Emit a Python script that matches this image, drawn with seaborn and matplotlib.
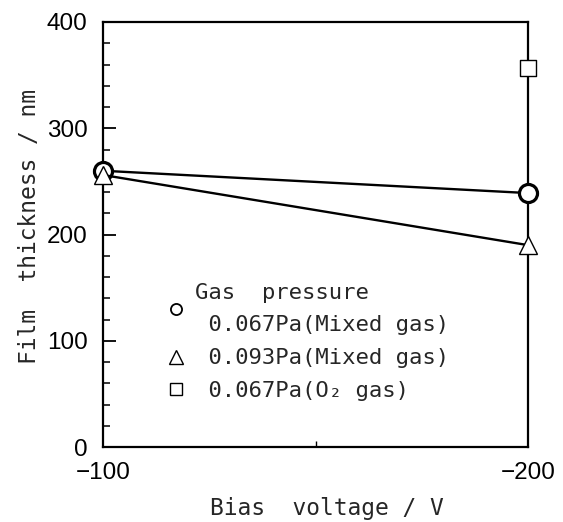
import matplotlib
matplotlib.use("Agg")
import matplotlib.pyplot as plt
import seaborn as sns
import pandas as pd
from matplotlib.lines import Line2D
from matplotlib.ticker import MultipleLocator, FixedLocator

# ---- data ----
bias = [-100, -200]
mixed_067 = [260, 239]
mixed_093 = [256, 190]
o2_bias = [-200]
o2_067 = [357]
legend_labels = ["Gas  pressure\n 0.067Pa(Mixed gas)", " 0.093Pa(Mixed gas)", " 0.067Pa(O\u2082 gas)"]
x_ticks = [-100, -200]
x_tick_labels = ["\u2212100", "\u2212200"]
x_minor = [-150]
y_ticks = [0, 100, 200, 300, 400]

sns.set_style("white")
plt.rcParams["font.family"] = ["Liberation Sans", "DejaVu Sans"]
MONO = ["DejaVu Sans Mono", "DejaVu Sans"]

fig = plt.figure(figsize=(5.63, 5.22), dpi=100)
ax = fig.add_axes([103 / 563, 75 / 522, 425 / 563, 425 / 522])

df1 = pd.DataFrame({"bias": bias, "thickness": mixed_067})
df2 = pd.DataFrame({"bias": bias, "thickness": mixed_093})
df3 = pd.DataFrame({"bias": o2_bias, "thickness": o2_067})

sns.lineplot(data=df1, x="bias", y="thickness", ax=ax, color="black", linewidth=1.7,
             marker="o", markersize=13, markerfacecolor="white", markeredgecolor="black",
             markeredgewidth=2.3, clip_on=False, zorder=4)
sns.lineplot(data=df2, x="bias", y="thickness", ax=ax, color="black", linewidth=1.7,
             marker="^", markersize=13, markerfacecolor="white", markeredgecolor="black",
             markeredgewidth=1.0, clip_on=False, zorder=5)
sns.scatterplot(data=df3, x="bias", y="thickness", ax=ax, marker="s", s=11.5 ** 2,
                facecolor="white", edgecolor="black", linewidth=1.0, clip_on=False, zorder=5)

ax.set_xlim(-100, -200)
ax.set_ylim(0, 400)

ax.set_xticks(x_ticks)
ax.set_xticklabels(x_tick_labels)
ax.xaxis.set_minor_locator(FixedLocator(x_minor))
ax.set_yticks(y_ticks)
ax.yaxis.set_minor_locator(MultipleLocator(20))

ax.tick_params(axis="x", which="major", bottom=True, length=0, pad=11, labelsize=17.5, colors="black")
ax.tick_params(axis="x", which="minor", bottom=True, direction="in", length=4, width=1.0, color="black")
ax.tick_params(axis="y", which="major", left=True, direction="in", length=9.5, width=1.3, pad=11,
               labelsize=17.5, colors="black")
ax.tick_params(axis="y", which="minor", left=True, direction="in", length=5, width=1.1, color="black")

for s in ax.spines.values():
    s.set_visible(True)
    s.set_color("black")
    s.set_linewidth(1.6)

ax.set_xlabel("Bias  voltage / V", fontfamily=MONO, fontsize=16.5)
ax.set_ylabel("Film  thickness / nm", fontfamily=MONO, fontsize=16.5)
ax.xaxis.set_label_coords(0.527, -0.117)
ax.yaxis.set_label_coords(-0.146, 0.518)

handles = [
    Line2D([], [], ls="none", marker="o", markersize=8, markerfacecolor="white",
           markeredgecolor="black", markeredgewidth=1.3),
    Line2D([], [], ls="none", marker="^", markersize=10, markerfacecolor="white",
           markeredgecolor="black", markeredgewidth=1.0),
    Line2D([], [], ls="none", marker="s", markersize=8, markerfacecolor="white",
           markeredgecolor="black", markeredgewidth=1.0),
]
leg = ax.legend(handles, legend_labels, loc="upper left", bbox_to_anchor=(0.146, 0.386),
                frameon=False, prop={"family": MONO, "size": 16}, handlelength=1.0,
                handletextpad=0.36, borderpad=0, borderaxespad=0, labelspacing=0.58)
for t in leg.get_texts():
    t.set_linespacing(1.78)

fig.savefig("out.png", dpi=100)
